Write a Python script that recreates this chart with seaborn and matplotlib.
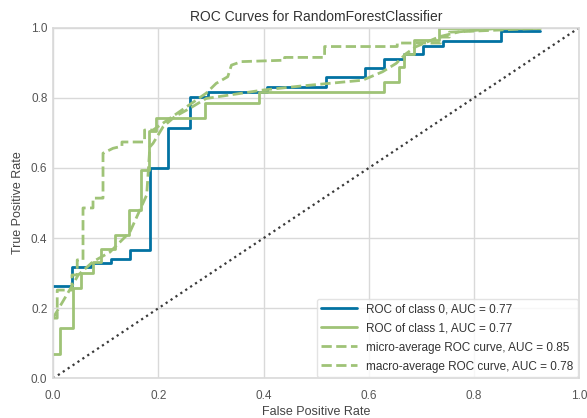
import matplotlib
matplotlib.use("Agg")
import matplotlib.pyplot as plt
import pandas as pd
import seaborn as sns

# ROC points (false positive rate, true positive rate)
fpr_class0 = [0, 0.036, 0.036, 0.073, 0.073, 0.111, 0.111, 0.146, 0.146,
              0.184, 0.184, 0.219, 0.219, 0.260, 0.260, 0.294, 0.294, 0.406,
              0.406, 0.519, 0.519, 0.593, 0.593, 0.628, 0.628, 0.667, 0.667,
              0.702, 0.702, 0.741, 0.741, 0.851, 0.851, 0.926]
tpr_class0 = [0.264, 0.264, 0.319, 0.319, 0.328, 0.328, 0.340, 0.340, 0.366,
              0.366, 0.599, 0.599, 0.713, 0.713, 0.803, 0.803, 0.817, 0.817,
              0.831, 0.831, 0.858, 0.858, 0.884, 0.884, 0.910, 0.910, 0.926,
              0.926, 0.948, 0.948, 0.962, 0.962, 0.990, 0.990]

fpr_class1 = [0, 0.013, 0.013, 0.038, 0.038, 0.053, 0.053, 0.076, 0.076,
              0.092, 0.092, 0.118, 0.118, 0.145, 0.145, 0.168, 0.168, 0.183,
              0.183, 0.195, 0.195, 0.288, 0.288, 0.392, 0.392, 0.629, 0.629,
              0.658, 0.658, 0.667, 0.667, 0.686, 0.686, 0.734, 0.734, 0.926]
tpr_class1 = [0.070, 0.070, 0.145, 0.145, 0.257, 0.257, 0.301, 0.301, 0.333,
              0.333, 0.368, 0.368, 0.409, 0.409, 0.480, 0.480, 0.594, 0.594,
              0.706, 0.706, 0.743, 0.743, 0.784, 0.784, 0.816, 0.816, 0.846,
              0.846, 0.888, 0.888, 0.926, 0.926, 0.964, 0.964, 1.0, 1.0]

fpr_micro = [0, 0.008, 0.008, 0.036, 0.036, 0.046, 0.046, 0.057, 0.057,
             0.076, 0.076, 0.095, 0.095, 0.114, 0.131, 0.131, 0.174, 0.174,
             0.190, 0.291, 0.310, 0.332, 0.339, 0.358, 0.440, 0.440, 0.516,
             0.516, 0.654, 0.654, 0.736, 0.736, 0.753, 0.753, 0.926]
tpr_micro = [0.172, 0.172, 0.252, 0.252, 0.295, 0.295, 0.338, 0.338, 0.486,
             0.486, 0.514, 0.514, 0.642, 0.656, 0.662, 0.674, 0.674, 0.708,
             0.708, 0.813, 0.841, 0.860, 0.893, 0.903, 0.907, 0.915, 0.915,
             0.946, 0.946, 0.956, 0.956, 0.973, 0.973, 0.987, 0.998]

fpr_macro = [0, 0.035, 0.048, 0.076, 0.108, 0.146, 0.178, 0.184, 0.190,
             0.209, 0.231, 0.260, 0.291, 0.399, 0.468, 0.588, 0.626, 0.652,
             0.671, 0.689, 0.734, 0.772, 0.847, 0.926]
tpr_macro = [0.172, 0.261, 0.295, 0.333, 0.360, 0.417, 0.523, 0.660, 0.670,
             0.717, 0.746, 0.770, 0.798, 0.822, 0.833, 0.850, 0.874, 0.898,
             0.926, 0.945, 0.974, 0.988, 0.998, 1.0]

chance_fpr = [0, 1]
chance_tpr = [0, 1]

auc_class0 = 0.77
auc_class1 = 0.77
auc_micro = 0.85
auc_macro = 0.78

curves = [
    (fpr_class0, tpr_class0, f"ROC of class 0, AUC = {auc_class0:.2f}", "#0272a2", "-"),
    (fpr_class1, tpr_class1, f"ROC of class 1, AUC = {auc_class1:.2f}", "#9fc377", "-"),
    (fpr_micro, tpr_micro, f"micro-average ROC curve, AUC = {auc_micro:.2f}", "#9fc377", "--"),
    (fpr_macro, tpr_macro, f"macro-average ROC curve, AUC = {auc_macro:.2f}", "#9fc377", "--"),
]

sns.set_theme(style="whitegrid")
plt.rcParams["font.family"] = ["Liberation Sans", "DejaVu Sans"]
plt.rcParams["axes.edgecolor"] = "#d9d9d9"
plt.rcParams["grid.color"] = "#d9d9d9"

fig, ax = plt.subplots(figsize=(5.87, 4.18), dpi=100)
fig.subplots_adjust(left=0.0903, right=0.987, top=0.934, bottom=0.0945)

for fpr, tpr, label, color, ls in curves:
    df = pd.DataFrame({"fpr": fpr, "tpr": tpr})
    sns.lineplot(data=df, x="fpr", y="tpr", sort=False, estimator=None,
                 color=color, linestyle=ls, linewidth=2, label=label, ax=ax)

chance = pd.DataFrame({"fpr": chance_fpr, "tpr": chance_tpr})
sns.lineplot(data=chance, x="fpr", y="tpr", sort=False, estimator=None,
             color="#3a3a3a", linestyle=":", linewidth=1.6, ax=ax)

ax.set_xlim(0, 1)
ax.set_ylim(0, 1)
ax.set_title("ROC Curves for RandomForestClassifier", fontsize=10, color="#333333", pad=5)
ax.set_xlabel("False Positive Rate", fontsize=9, color="#444444", labelpad=3)
ax.set_ylabel("True Positive Rate", fontsize=9, color="#444444", labelpad=5)
ax.tick_params(labelsize=8.5, colors="#555555", length=0)
ax.tick_params(axis="x", pad=8)
ax.tick_params(axis="y", pad=4)
ax.grid(True, linewidth=1)
for s in ax.spines.values():
    s.set_linewidth(1.2)

leg = ax.legend(loc="lower right", fontsize=8.5, frameon=True, handlelength=3,
                borderaxespad=0.1, labelspacing=0.6)
leg.get_frame().set_edgecolor("#dddddd")
leg.get_frame().set_facecolor("white")
leg.get_frame().set_alpha(0.8)
for t in leg.get_texts():
    t.set_color("#333333")

fig.savefig("out.png", dpi=100)
